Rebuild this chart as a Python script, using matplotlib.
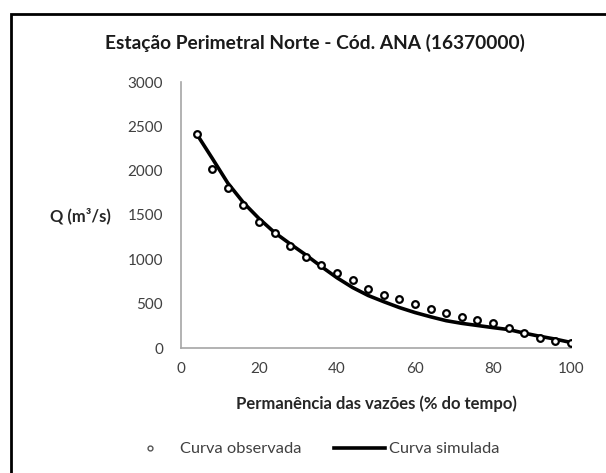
import matplotlib.pyplot as plt
from matplotlib.lines import Line2D
from matplotlib.patches import Rectangle

plt.rcParams['font.family'] = ['Lato', 'DejaVu Sans']

# permanencia (% do tempo)
perm = [4, 8, 12, 16, 20, 24, 28, 32, 36, 40, 44, 48, 52,
        56, 60, 64, 68, 72, 76, 80, 84, 88, 92, 96, 100]

# vazoes observadas (m3/s)
q_obs = [2415, 2017, 1806, 1608, 1422, 1302, 1153, 1022, 933, 843, 768, 670, 598,
         549, 498, 436, 400, 348, 314, 277, 226, 166, 115, 83, 62]

# vazoes simuladas (m3/s)
q_sim = [2415, 2140, 1860, 1640, 1460, 1302, 1174, 1050, 918, 792, 682, 592, 522,
         456, 400, 352, 308, 278, 254, 230, 208, 168, 132, 100, 62]

title = 'Estação Perimetral Norte - Cód. ANA (16370000)'
txt_color = '#404040'

fig = plt.figure(figsize=(6.06, 4.73), dpi=100)
ax = fig.add_axes([181 / 606, 1 - 348 / 473, 390 / 606, 266 / 473])

ax.plot(perm, q_sim, color='black', lw=2.6, zorder=2)
ax.plot(perm, q_obs, ls='none', marker='o', ms=4.8, mfc='white',
        mec='black', mew=1.6, zorder=3)

ax.set_xlim(0, 100)
ax.set_ylim(0, 3000)
ax.set_xticks([0, 20, 40, 60, 80, 100])
ax.set_yticks([0, 500, 1000, 1500, 2000, 2500, 3000])
ax.tick_params(length=0, labelsize=11, colors=txt_color)
ax.tick_params(axis='y', pad=13)
ax.tick_params(axis='x', pad=10)

for s in ['top', 'right']:
    ax.spines[s].set_visible(False)
for s in ['left', 'bottom']:
    ax.spines[s].set_color('#a6a6a6')
    ax.spines[s].set_linewidth(1.2)

ax.set_xlabel('Permanência das vazões (% do tempo)', fontsize=12,
              fontweight='bold', color='#262626')
ax.xaxis.set_label_coords(0.5, -0.177)
ax.set_ylabel('Q (m³/s)', fontsize=12, fontweight='bold', color='#262626',
              rotation=0, ha='center', va='center')
ax.yaxis.set_label_coords(-0.258, 0.496)

fig.text(315 / 606, 1 - 43 / 473, title, ha='center', va='center',
         fontsize=13.8, fontweight='bold', color='#1a1a1a')

handles = [
    Line2D([], [], ls='none', marker='o', ms=3.5, mfc='white', mec='#555555', mew=1.0),
    Line2D([], [], color='black', lw=2.6),
]
fig.legend(handles, ['Curva observada', 'Curva simulada'], loc='center left',
           bbox_to_anchor=(125 / 606, 1 - 449 / 473), ncol=2, frameon=False,
           fontsize=11.8, handlelength=3.1, handletextpad=0.25, columnspacing=2.0,
           labelcolor=txt_color, borderaxespad=0, borderpad=0)

# moldura do grafico
fig.add_artist(Rectangle((11 / 606, -0.2), 1.5, 0.2 + 1 - 14 / 473,
                         transform=fig.transFigure, fill=False,
                         edgecolor='black', lw=2))

fig.savefig('out.png', dpi=100)
